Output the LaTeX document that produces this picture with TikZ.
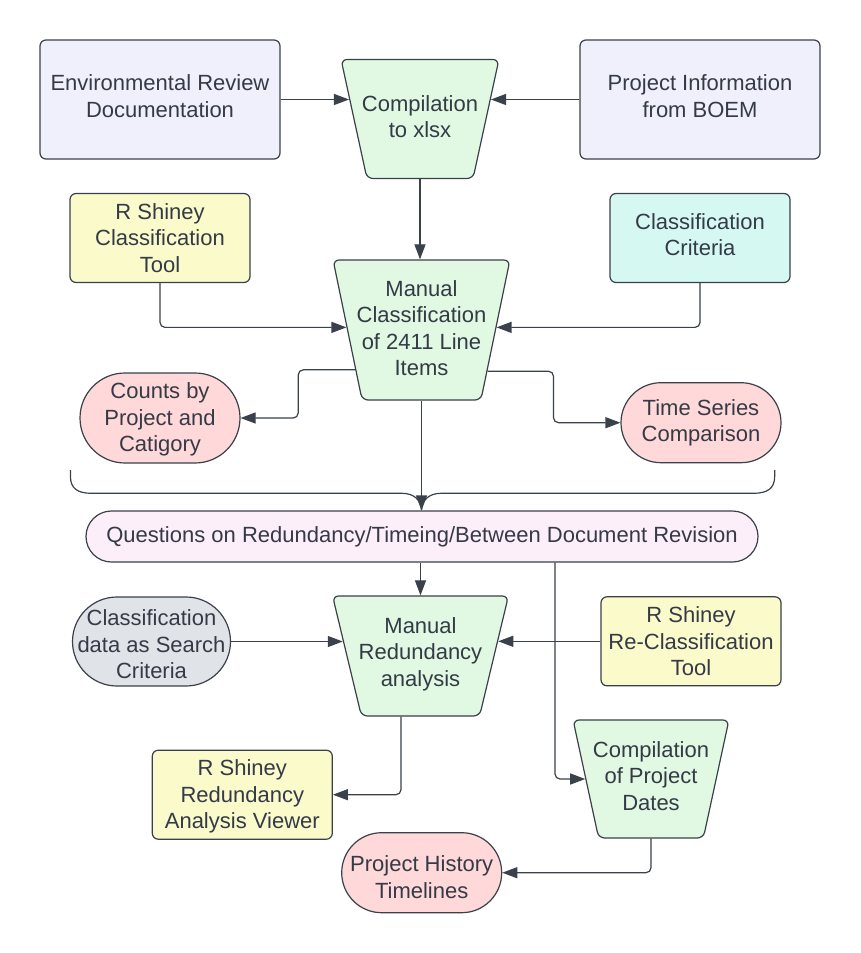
\documentclass[tikz,border=0pt]{standalone}
\usepackage{fontspec}
\setmainfont{Liberation Sans}
\usetikzlibrary{shapes.geometric,shapes.misc,arrows.meta,calc}
\definecolor{strk}{HTML}{3A414B}
\definecolor{txtc}{HTML}{343A46}
\definecolor{lav}{HTML}{F0F0FD}
\definecolor{grn}{HTML}{E1F9E3}
\definecolor{yel}{HTML}{FBFACB}
\definecolor{cyn}{HTML}{D6F8F3}
\definecolor{pnk}{HTML}{FFD8D9}
\definecolor{qpk}{HTML}{FDEFF9}
\definecolor{gry}{HTML}{E0E3E8}
\begin{document}
\begin{tikzpicture}[x=1pt,y=-1pt,
  base/.style={draw=strk,line width=1.2pt,text=txtc,font=\fontsize{22}{26.5}\selectfont,align=center,inner sep=0pt},
  box/.style={base,rectangle,rounded corners=6pt,minimum width=180pt,minimum height=89pt},
  trap/.style={base,trapezium,trapezium left angle=76.7,trapezium right angle=76.7,shape border rotate=180,trapezium stretches=true,rounded corners=6pt,fill=grn,inner sep=2pt,font=\normalsize},
  pill/.style={base,rounded rectangle},
  lbl/.style={text=txtc,font=\fontsize{22}{26.5}\selectfont,align=center,inner sep=0pt},
  arr/.style={draw=strk,line width=1.2pt,rounded corners=5pt,-{Triangle[length=15pt,width=11pt]}},
  plain/.style={draw=strk,line width=1.2pt}
]
\useasboundingbox (0,0) rectangle (860,953);
\fill[white] (0,0) rectangle (860,953);

% top row
\node[box,fill=lav,minimum width=240pt,minimum height=119pt] (env) at (160,99.5) {};
\node[lbl] (envt) at (160,96) {Environmental Review\\Documentation};
\node[box,fill=lav,minimum width=240pt,minimum height=119pt] (boem) at (700,99.5) {};
\node[lbl] (boemt) at (700,96) {Project Information\\from BOEM};
\node[trap,minimum width=158pt,minimum height=119pt] (comp) at (420,119) {\phantom{x}};
\node[lbl] (compt) at (420,116.5) {Compilation\\to xlsx};

% second row
\node[box,fill=yel] (rsct) at (160,238) {R Shiney\\Classification\\Tool};
\node[box,fill=cyn] (crit) at (700,238) {};
\node[lbl] (critt) at (700,234.5) {Classification\\Criteria};
\node[trap,minimum width=177pt,minimum height=140pt] (mc) at (421.5,330) {\phantom{x}};
\node[lbl] (mct) at (421.5,328) {Manual\\Classification\\of 2411 Line\\Items};

\node[pill,fill=pnk,minimum width=160pt,minimum height=90pt] (counts) at (160,418) {};
\node[lbl] (countst) at (160,419.5) {Counts by\\Project and\\Catigory};
\node[pill,fill=pnk,minimum width=160pt,minimum height=80pt] (ts) at (701,422.7) {};
\node[lbl] (tst) at (ts) {Time Series\\Comparison};

% brace
\draw[plain] (70.4,470) -- (70.4,476) .. controls (70.4,489) and (78,493.3) .. (92,493.3)
  -- (402,493.3) .. controls (414,493.3) and (421,500) .. (421.5,510);
\draw[plain] (421.5,510) .. controls (422,500) and (429,493.3) .. (441,493.3)
  -- (753,493.3) .. controls (767,493.3) and (774.7,489) .. (774.7,476) -- (774.7,470);

% questions
\node[pill,fill=qpk,minimum width=672pt,minimum height=51pt] (q) at (422,536.5) {};
\node[lbl] (qt) at (q) {Questions on Redundancy/Timeing/Between Document Revision};

% lower part
\node[pill,fill=gry,minimum width=158pt,minimum height=89pt] (cdata) at (151.5,641.5) {};
\node[lbl] (cdatat) at (151.5,644.5) {Classification\\data as Search\\Criteria};
\node[trap,minimum width=176pt,minimum height=120pt] (mr) at (420.5,656) {\phantom{x}};
\node[lbl] (mrt) at (420.5,654) {Manual\\Redundancy\\analysis};
\node[box,fill=yel] (rsrc) at (691,641.3) {R Shiney\\Re-Classification\\Tool};
\node[trap,minimum width=156pt,minimum height=118pt] (cpd) at (651,779) {\phantom{x}};
\node[lbl] (cpdt) at (651,776) {Compilation\\of Project\\Dates};
\node[box,fill=yel] (rsrv) at (242.3,794.7) {};
\node[lbl] (rsrvt) at (242.3,796.7) {R Shiney\\Redundancy\\Analysis Viewer};
\node[pill,fill=pnk,minimum width=160pt,minimum height=80pt] (pht) at (421.7,872.7) {};
\node[lbl] (phtt) at (421.7,877) {Project History\\Timelines};

% connectors
\draw[arr] (env.east) -- (env.east -| comp.164);
\draw[arr] (boem.west) -- (boem.west -| comp.16);
\draw[arr] (comp.south) -- (comp.south |- mc.north);
\draw[arr] (rsct.south) |- (mc.178);
\draw[arr] (crit.south) |- (mc.2);
\draw[arr] (mc.211) -- ++(-57,0) |- (counts.east);
\draw[arr] (mc.328) -- ++(66,0) |- (ts.west);
\draw[arr] (mc.south) -- (mc.south |- q.north);
\draw[arr] (mr.north |- q.south) -- (mr.north);
\draw[arr] ([xshift=133pt]q.south) |- (cpd.180);
\draw[arr] (cdata.east) -- (cdata.east -| mr.169);
\draw[arr] (rsrc.west) -- (rsrc.west -| mr.11);
\draw[arr] ([xshift=-19.5pt]mr.south) |- (rsrv.east);
\draw[arr] (cpd.south) |- (pht.east);
\end{tikzpicture}
\end{document}
